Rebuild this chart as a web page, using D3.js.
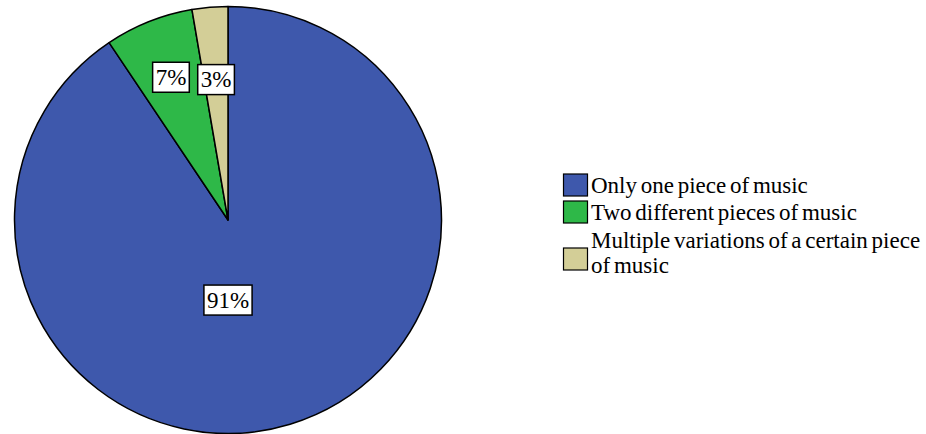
<!DOCTYPE html>
<html>
<head>
<meta charset="utf-8">
<script src="https://cdn.jsdelivr.net/npm/d3@7"></script>
<style>
  html, body { margin: 0; padding: 0; background: #fff; }
  svg { display: block; }
  text { font-family: "Liberation Serif", "Times New Roman", serif; fill: #000; }
</style>
</head>
<body>
<svg id="chart" width="926" height="434"></svg>
<script>
// Answer categories, their shares (percent of respondents) and slice colours
const categories = [
  "Only one piece of music",
  "Two different pieces of music",
  "Multiple variations of a certain piece of music"
];
const shares = [90.6, 6.7, 2.7];
const colors = ["#3E58AC", "#2EB848", "#D3CE97"];
// Legend entries wrapped onto lines
const legendLines = [
  ["Only one piece of music"],
  ["Two different pieces of music"],
  ["Multiple variations of a certain piece", "of music"]
];

const svg = d3.select("#chart");
const cx = 228, cy = 220, R = 213.5;

const data = categories.map((c, i) => ({ name: c, value: shares[i], color: colors[i], lines: legendLines[i] }));

const pie = d3.pie().sort(null).value(d => d.value);
const arcs = pie(data);
const arc = d3.arc().innerRadius(0).outerRadius(R);

const g = svg.append("g").attr("transform", `translate(${cx},${cy})`);

g.selectAll("path.slice")
  .data(arcs)
  .join("path")
  .attr("class", "slice")
  .attr("d", arc)
  .attr("fill", d => d.data.color)
  .attr("stroke", "#000")
  .attr("stroke-width", 1.5)
  .attr("stroke-linejoin", "round");

// Percentage labels in boxed callouts
const labelRadius = [0.375, 0.72, 0.66];
const total = d3.sum(shares);
arcs.forEach((d, i) => {
  let a = (d.startAngle + d.endAngle) / 2;
  if (i === 0) a = Math.PI; // the large slice's label sits straight below the centre
  const r = labelRadius[i] * R;
  const x = r * Math.sin(a), y = -r * Math.cos(a);
  const lg = g.append("g").attr("transform", `translate(${x},${y})`);
  const t = lg.append("text")
    .attr("text-anchor", "middle")
    .attr("dominant-baseline", "central")
    .attr("font-size", 23)
    .text(Math.round(d.data.value / total * 100) + "%");
  const bb = t.node().getBBox();
  lg.insert("rect", "text")
    .attr("x", bb.x - 3)
    .attr("y", -15)
    .attr("width", bb.width + 6)
    .attr("height", 30)
    .attr("fill", "#fff")
    .attr("stroke", "#000")
    .attr("stroke-width", 1.5);
});

// Legend
const legend = svg.append("g").attr("transform", "translate(563,0)");
const rowTop = [174, 201, 229];
data.forEach((d, i) => {
  const nLines = d.lines.length;
  const swY = nLines > 1 ? rowTop[i] + 19 : rowTop[i];
  legend.append("rect")
    .attr("x", 0.5).attr("y", swY)
    .attr("width", 24).attr("height", 22)
    .attr("fill", d.color)
    .attr("stroke", "#000").attr("stroke-width", 1.2);
  d.lines.forEach((line, k) => {
    legend.append("text")
      .attr("x", 28)
      .attr("y", rowTop[i] + 19 + k * 25)
      .attr("font-size", 23)
      .attr("word-spacing", -2)
      .text(line);
  });
});
</script>
</body>
</html>
